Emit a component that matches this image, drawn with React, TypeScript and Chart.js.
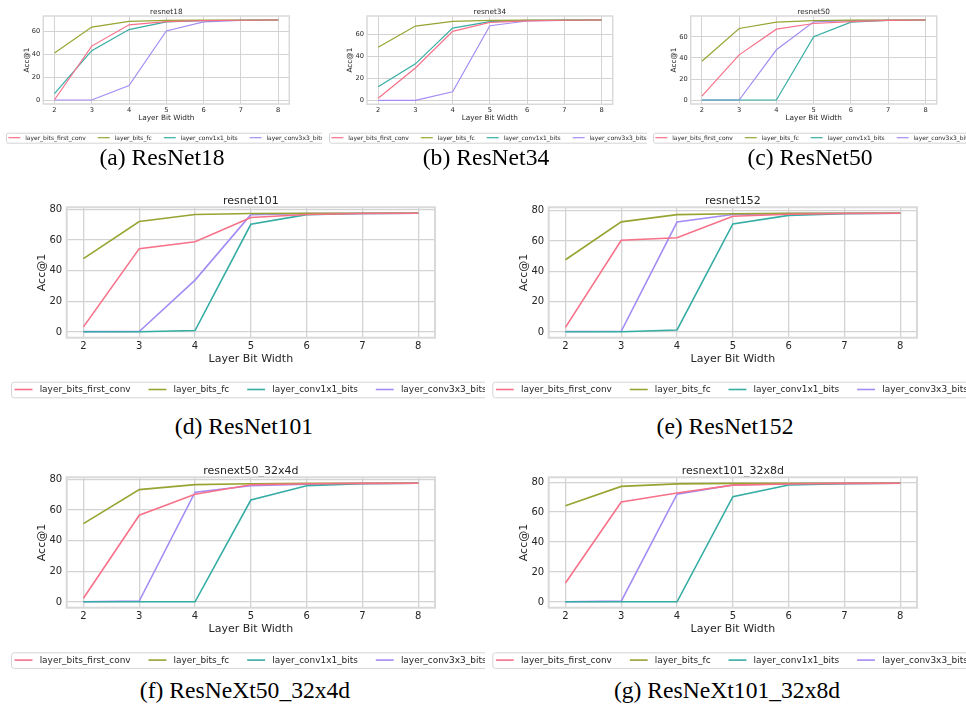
import React, { useEffect, useRef } from "react";
import { Chart, registerables } from "chart.js";

Chart.register(...registerables);

// ---------- data ----------
const bitWidths = [2, 3, 4, 5, 6, 7, 8];
const seriesLabels = ["layer_bits_first_conv", "layer_bits_fc", "layer_conv1x1_bits", "layer_conv3x3_bits"];
const seriesColors = ["#f77189", "#97a431", "#36ada4", "#a48cf4"];
const yTickValues = [0, 20, 40, 60, 80];
const xAxisTitle = "Layer Bit Width";
const yAxisTitle = "Acc@1";

const resnet18FirstConv = [0.3, 47.0, 65.5, 68.2, 69.2, 69.5, 69.7];
const resnet18Fc = [41.0, 63.5, 68.5, 69.4, 69.6, 69.7, 69.7];
const resnet18Conv1x1 = [5.6, 43.0, 61.4, 68.0, 69.2, 69.5, 69.7];
const resnet18Conv3x3 = [0.1, 0.1, 12.7, 60.2, 68.0, 69.3, 69.7];

const resnet34FirstConv = [1.9, 29.5, 63.0, 71.2, 72.6, 73.1, 73.3];
const resnet34Fc = [48.4, 67.8, 72.1, 72.9, 73.2, 73.3, 73.3];
const resnet34Conv1x1 = [12.4, 33.3, 65.9, 71.8, 72.9, 73.2, 73.3];
const resnet34Conv3x3 = [0.1, 0.1, 7.8, 68.1, 72.4, 73.0, 73.3];

const resnet50FirstConv = [3.8, 43.0, 67.4, 72.8, 74.6, 75.7, 76.1];
const resnet50Fc = [36.9, 68.0, 74.1, 75.5, 75.9, 76.1, 76.1];
const resnet50Conv1x1 = [0.1, 0.1, 0.1, 60.3, 74.1, 75.8, 76.1];
const resnet50Conv3x3 = [0.1, 0.1, 47.8, 74.4, 75.6, 76.0, 76.1];

const resnet101FirstConv = [3.3, 54.3, 58.8, 74.6, 76.6, 77.2, 77.4];
const resnet101Fc = [47.8, 72.0, 76.6, 77.2, 77.3, 77.4, 77.4];
const resnet101Conv1x1 = [0.1, 0.1, 0.9, 70.2, 76.5, 77.2, 77.4];
const resnet101Conv3x3 = [0.2, 0.3, 33.8, 76.5, 77.2, 77.3, 77.4];

const resnet152FirstConv = [3.0, 60.5, 62.1, 76.3, 77.6, 78.1, 78.3];
const resnet152Fc = [47.6, 72.6, 77.4, 78.0, 78.2, 78.3, 78.3];
const resnet152Conv1x1 = [0.1, 0.1, 1.3, 71.2, 76.9, 78.0, 78.3];
const resnet152Conv3x3 = [0.3, 0.4, 72.5, 77.5, 78.1, 78.3, 78.3];

const resnext50FirstConv = [2.4, 56.7, 70.4, 76.6, 77.3, 77.5, 77.6];
const resnext50Fc = [51.2, 73.4, 76.7, 77.3, 77.5, 77.6, 77.6];
const resnext50Conv1x1 = [0.1, 0.1, 0.1, 66.6, 76.0, 77.3, 77.6];
const resnext50Conv3x3 = [0.1, 0.6, 71.7, 76.0, 77.0, 77.5, 77.6];

const resnext101FirstConv = [12.6, 66.8, 72.8, 78.0, 78.8, 79.2, 79.3];
const resnext101Fc = [64.2, 77.2, 78.9, 79.2, 79.3, 79.3, 79.3];
const resnext101Conv1x1 = [0.1, 0.1, 0.1, 70.3, 78.1, 79.0, 79.3];
const resnext101Conv3x3 = [0.1, 0.5, 72.0, 78.1, 79.0, 79.2, 79.3];

// ---------- layout ----------
type PanelSpec = {
  title: string;
  caption: string;
  series: number[][];
  box: [number, number, number, number]; // canvas left, top, width, height
  plot: [number, number, number, number]; // plot left, top, right, bottom
  legend: [number, number, number]; // legend left, top, height
  s: number;
  cap: [number, number];
};

const panels: PanelSpec[] = [
  {
    title: "resnet18", caption: "(a) ResNet18",
    series: [resnet18FirstConv, resnet18Fc, resnet18Conv1x1, resnet18Conv3x3],
    box: [0, 0, 322, 148], plot: [43.3, 16, 289.3, 104], legend: [6, 132.7, 10], s: 0.668, cap: [162, 157],
  },
  {
    title: "resnet34", caption: "(b) ResNet34",
    series: [resnet34FirstConv, resnet34Fc, resnet34Conv1x1, resnet34Conv3x3],
    box: [324, 0, 323, 148], plot: [367, 16, 612.7, 104.3], legend: [329, 132.7, 10], s: 0.668, cap: [486, 157],
  },
  {
    title: "resnet50", caption: "(c) ResNet50",
    series: [resnet50FirstConv, resnet50Fc, resnet50Conv1x1, resnet50Conv3x3],
    box: [647, 0, 319, 148], plot: [690.7, 16, 936.7, 104], legend: [653, 132.7, 10], s: 0.668, cap: [810, 157],
  },
  {
    title: "resnet101", caption: "(d) ResNet101",
    series: [resnet101FirstConv, resnet101Fc, resnet101Conv1x1, resnet101Conv3x3],
    box: [0, 185, 485, 220], plot: [66.7, 207.3, 435, 337.7], legend: [11, 381.7, 15.6], s: 1, cap: [244, 426],
  },
  {
    title: "resnet152", caption: "(e) ResNet152",
    series: [resnet152FirstConv, resnet152Fc, resnet152Conv1x1, resnet152Conv3x3],
    box: [485, 185, 481, 220], plot: [548.7, 207.3, 917, 337.7], legend: [492.3, 381.7, 15.6], s: 1, cap: [725, 426],
  },
  {
    title: "resnext50_32x4d", caption: "(f) ResNeXt50_32x4d",
    series: [resnext50FirstConv, resnext50Fc, resnext50Conv1x1, resnext50Conv3x3],
    box: [0, 455, 485, 220], plot: [66.7, 477.3, 435, 607.7], legend: [11, 652.3, 15.6], s: 1, cap: [245, 690],
  },
  {
    title: "resnext101_32x8d", caption: "(g) ResNeXt101_32x8d",
    series: [resnext101FirstConv, resnext101Fc, resnext101Conv1x1, resnext101Conv3x3],
    box: [485, 455, 481, 220], plot: [548.7, 477.3, 917, 607.7], legend: [492.3, 652.3, 15.6], s: 1, cap: [727, 690],
  },
];

const FONT = '"DejaVu Sans", sans-serif';
const TEXT = "#262626";

const framePlugin = {
  id: "frameBox",
  afterDatasetsDraw(chart: any, _a: any, o: any) {
    const { ctx, chartArea } = chart;
    ctx.save();
    ctx.strokeStyle = o.color || "#d9d9d9";
    ctx.lineWidth = o.width || 2;
    ctx.strokeRect(chartArea.left, chartArea.top, chartArea.right - chartArea.left, chartArea.bottom - chartArea.top);
    ctx.restore();
  },
};

const boxLegendPlugin = {
  id: "boxLegend",
  afterDraw(chart: any, _a: any, o: any) {
    if (!o || o.fontSize == null) return;
    const ctx = chart.ctx;
    const f = o.fontSize;
    ctx.save();
    ctx.font = `${f}px ${FONT}`;
    const items = chart.data.datasets.map((d: any) => ({
      label: String(d.label),
      color: d.borderColor,
      w: ctx.measureText(String(d.label)).width,
    }));
    const pad = 0.4 * f, hl = 2 * f, htp = 0.8 * f, cs = 2 * f;
    let total = pad * 2;
    items.forEach((it: any, i: number) => {
      total += hl + htp + it.w + (i ? cs : 0);
    });
    ctx.beginPath();
    ctx.roundRect(o.x + 0.5, o.y + 0.5, total, o.h, 0.3 * f);
    ctx.fillStyle = "rgba(255,255,255,0.8)";
    ctx.fill();
    ctx.strokeStyle = "#d4d4d4";
    ctx.lineWidth = 1;
    ctx.stroke();
    let x = o.x + pad;
    const cy = o.y + o.h / 2;
    ctx.textBaseline = "middle";
    ctx.textAlign = "left";
    items.forEach((it: any) => {
      ctx.beginPath();
      ctx.strokeStyle = it.color;
      ctx.lineWidth = o.lineWidth;
      ctx.moveTo(x, cy);
      ctx.lineTo(x + hl, cy);
      ctx.stroke();
      ctx.fillStyle = TEXT;
      ctx.fillText(it.label, x + hl + htp, cy + 0.5);
      x += hl + htp + it.w + cs;
    });
    ctx.restore();
  },
};

function Panel({ spec }: { spec: PanelSpec }) {
  const ref = useRef<HTMLCanvasElement | null>(null);
  const [cx, cy, cw, ch] = spec.box;

  useEffect(() => {
    if (!ref.current) return;
    const s = spec.s;
    const [pl, pt, pr, pb] = spec.plot;
    const fT = 11 * s, fTick = 10 * s, fLeg = 8.95 * s;
    const yW = 25 * s + 0.6 * fT;
    const xH = 21.3 * s + 0.6 * fT;
    const titleGap = Math.max(0, 6.3 * s - fT / 2);
    const padTop = pt - cy - fT - titleGap;
    const padLeft = pl - cx - yW;
    const padRight = cx + cw - pr;
    const padBottom = cy + ch - pb - xH;
    const lw = s < 1 ? 1.2 : 1.6;

    const all = spec.series.flat();
    const dMin = Math.min(...all), dMax = Math.max(...all);
    const yMin = dMin - 0.05 * (dMax - dMin);
    const yMax = dMax + 0.05 * (dMax - dMin);
    const xMin = bitWidths[0] - 0.05 * (bitWidths[bitWidths.length - 1] - bitWidths[0]);
    const xMax = bitWidths[bitWidths.length - 1] + 0.05 * (bitWidths[bitWidths.length - 1] - bitWidths[0]);

    const chart = new Chart(ref.current, {
      type: "line",
      data: {
        datasets: spec.series.map((vals, i) => ({
          label: seriesLabels[i],
          data: vals.map((v, j) => ({ x: bitWidths[j], y: v })),
          borderColor: seriesColors[i],
          backgroundColor: seriesColors[i],
          borderWidth: lw,
          pointRadius: 0,
          tension: 0,
          fill: false,
        })),
      },
      options: {
        responsive: false,
        animation: false,
        devicePixelRatio: 1,
        layout: { padding: { left: padLeft, right: padRight, top: padTop, bottom: padBottom } },
        plugins: {
          legend: { display: false },
          tooltip: { enabled: false },
          title: {
            display: true,
            text: spec.title,
            fullSize: false,
            color: TEXT,
            font: { family: FONT, size: fT, weight: "normal", lineHeight: 1 },
            padding: { top: 0, bottom: titleGap },
          },
          frameBox: { color: "#d9d9d9", width: s < 1 ? 1.5 : 2 },
          boxLegend: { x: spec.legend[0] - cx, y: spec.legend[1] - cy, h: spec.legend[2], fontSize: fLeg, lineWidth: lw },
        } as any,
        scales: {
          x: {
            type: "linear",
            min: xMin,
            max: xMax,
            afterBuildTicks: (sc: any) => {
              sc.ticks = bitWidths.map((v) => ({ value: v }));
            },
            afterFit: (sc: any) => {
              sc.height = xH;
            },
            grid: { color: "#d3d3d3", lineWidth: s < 1 ? 1 : 1.3, drawTicks: false },
            border: { display: false },
            ticks: {
              color: TEXT,
              font: { family: FONT, size: fTick, lineHeight: 1.2 },
              padding: 3 * s,
              maxRotation: 0,
              autoSkip: false,
              callback: (v: any) => String(v),
            },
            title: {
              display: true,
              text: xAxisTitle,
              color: TEXT,
              font: { family: FONT, size: fT, lineHeight: 1.2 },
              padding: 0,
            },
          },
          y: {
            type: "linear",
            min: yMin,
            max: yMax,
            afterBuildTicks: (sc: any) => {
              sc.ticks = yTickValues.filter((v) => v >= yMin && v <= yMax).map((v) => ({ value: v }));
            },
            afterFit: (sc: any) => {
              sc.width = yW;
            },
            grid: { color: "#d3d3d3", lineWidth: s < 1 ? 1 : 1.3, drawTicks: false },
            border: { display: false },
            ticks: {
              color: TEXT,
              font: { family: FONT, size: fTick, lineHeight: 1.2 },
              padding: 4.5 * s,
              callback: (v: any) => String(v),
            },
            title: {
              display: true,
              text: yAxisTitle,
              color: TEXT,
              font: { family: FONT, size: fT, lineHeight: 1.2 },
              padding: 0,
            },
          },
        },
      } as any,
      plugins: [framePlugin, boxLegendPlugin],
    });
    return () => chart.destroy();
  }, [spec]);

  return (
    <div style={{ position: "absolute", left: cx, top: cy, width: cw, height: ch, overflow: "hidden" }}>
      <canvas ref={ref} width={cw} height={ch} style={{ width: cw, height: ch, display: "block" }} />
    </div>
  );
}

export default function App() {
  return (
    <div style={{ position: "absolute", left: 0, top: 0, width: 966, height: 709, background: "#fff", overflow: "hidden" }}>
      {panels.map((p) => (
        <React.Fragment key={p.title}>
          <Panel spec={p} />
          <div
            style={{
              position: "absolute",
              left: p.cap[0],
              top: p.cap[1] - 12,
              transform: "translateX(-50%)",
              whiteSpace: "nowrap",
              font: '23.6px "Liberation Serif", "Times New Roman", serif',
              lineHeight: "24px",
              color: "#000",
            }}
          >
            {p.caption}
          </div>
        </React.Fragment>
      ))}
    </div>
  );
}
